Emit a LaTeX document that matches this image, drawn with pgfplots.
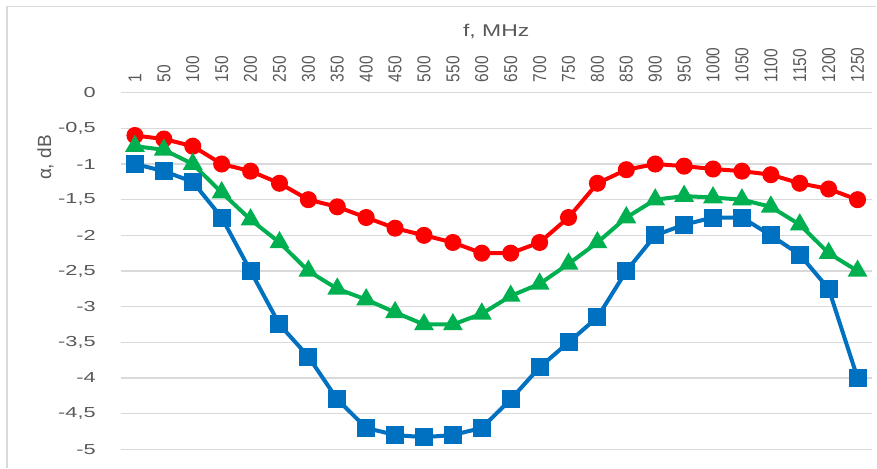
\documentclass[border=0pt]{standalone}
\usepackage{fontspec}
\setmainfont{Liberation Sans}
\usepackage{pgfplots}
\pgfplotsset{compat=1.18}
\definecolor{cred}{HTML}{FF0000}
\definecolor{cgreen}{HTML}{00B050}
\definecolor{cblue}{HTML}{0070C0}
\definecolor{tgray}{HTML}{595959}
\definecolor{ggray}{HTML}{D9D9D9}
\begin{document}
\begin{tikzpicture}[x=1pt,y=1pt]
\path[use as bounding box] (0,0) rectangle (877,468);
\draw[ggray, line width=1.2pt] (7,0) -- (7,461.5) -- (876,461.5);
\begin{axis}[
  at={(120.5pt,18.7pt)}, anchor=south west,
  scale only axis, width=751.5pt, height=356.6pt,
  xmin=-0.5, xmax=25.5, ymin=-5, ymax=0,
  xtick={0,...,25},
  xticklabels={1,50,100,150,200,250,300,350,400,450,500,550,600,650,700,750,800,850,900,950,1000,1050,1100,1150,1200,1250},
  xticklabel pos=upper,
  xticklabel shift=7pt,
  xticklabel style={xscale=1.2, rotate=90, anchor=west, font=\fontsize{15.5}{15.5}\selectfont, text=tgray},
  ytick={-5,-4.5,...,0},
  yticklabel style={font=\fontsize{14.5}{14.5}\selectfont, text=tgray, xscale=1.5, anchor=east, xshift=-13pt},
  /pgf/number format/use comma,
  /pgf/number format/assume math mode=true,
  axis line style={draw=none},
  major tick length=0pt,
  ymajorgrids, major grid style={ggray, line width=1.5pt},
  xlabel={f, MHz}, xlabel style={at={(axis description cs:0.5,1.172)}, anchor=center, font=\fontsize{17}{17}\selectfont, text=tgray, xscale=1.35},
  ylabel={α, dB}, ylabel style={at={(axis description cs:-0.1,0.818)}, anchor=center, rotate=0, font=\fontsize{19}{19}\selectfont, text=tgray},
  clip=false,
  every axis plot/.append style={line width=4pt},
]
\addplot[cred, mark=*, mark size=6.5pt, mark options={solid}] coordinates {
(0,-0.6)(1,-0.65)(2,-0.75)(3,-1.0)(4,-1.1)(5,-1.27)(6,-1.5)(7,-1.6)(8,-1.75)(9,-1.9)(10,-2.0)(11,-2.1)(12,-2.25)(13,-2.25)(14,-2.1)(15,-1.75)(16,-1.27)(17,-1.08)(18,-1.0)(19,-1.03)(20,-1.07)(21,-1.1)(22,-1.15)(23,-1.27)(24,-1.35)(25,-1.5)};
\addplot[cgreen, mark=triangle*, mark size=7.5pt, mark options={solid}] coordinates {
(0,-0.75)(1,-0.8)(2,-1.0)(3,-1.4)(4,-1.78)(5,-2.1)(6,-2.5)(7,-2.75)(8,-2.9)(9,-3.08)(10,-3.25)(11,-3.25)(12,-3.1)(13,-2.85)(14,-2.68)(15,-2.4)(16,-2.1)(17,-1.75)(18,-1.5)(19,-1.45)(20,-1.47)(21,-1.5)(22,-1.6)(23,-1.85)(24,-2.25)(25,-2.5)};
\addplot[cblue, mark=square*, mark size=7pt, mark options={solid}] coordinates {
(0,-1.0)(1,-1.1)(2,-1.25)(3,-1.75)(4,-2.5)(5,-3.25)(6,-3.7)(7,-4.3)(8,-4.7)(9,-4.8)(10,-4.83)(11,-4.8)(12,-4.7)(13,-4.3)(14,-3.85)(15,-3.5)(16,-3.15)(17,-2.5)(18,-2.0)(19,-1.85)(20,-1.75)(21,-1.75)(22,-2.0)(23,-2.27)(24,-2.75)(25,-4.0)};
\end{axis}
\end{tikzpicture}
\end{document}
